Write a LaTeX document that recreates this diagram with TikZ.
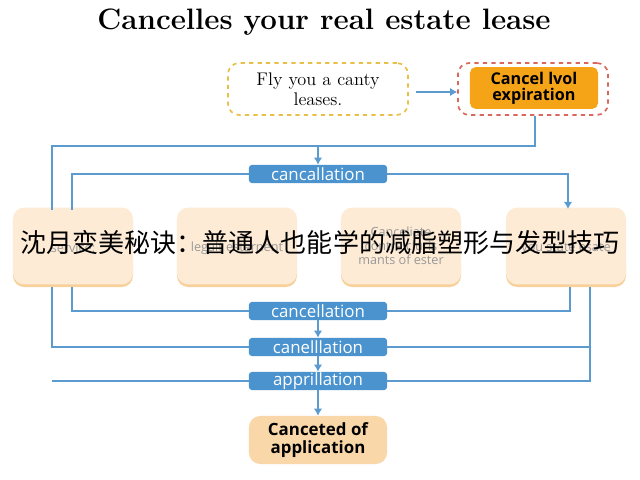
\documentclass[tikz,border=0pt]{standalone}
\usepackage{fontspec}
\setsansfont{Open Sans}
\newfontfamily\cjk{Noto Sans CJK SC}
\usetikzlibrary{arrows.meta}
\definecolor{flowblue}{HTML}{5B9BD0}
\definecolor{pillblue}{HTML}{4A93CF}
\definecolor{peach}{HTML}{FDEBD6}
\definecolor{peachdark}{HTML}{F8D09A}
\definecolor{dashyellow}{HTML}{E8C048}
\definecolor{dashred}{HTML}{D9675B}
\definecolor{boxorange}{HTML}{F5A418}
\begin{document}
\begin{tikzpicture}[x=0.025cm, y=-0.025cm,
    flow/.style={draw=flowblue, line width=1pt},
    arr/.style={flow, -{Latex[length=5pt,width=6pt]}},
    pill/.style={fill=pillblue, rounded corners=2pt, text=white, font=\sffamily\fontsize{12}{12}\selectfont,
        minimum width=3.45cm, minimum height=0.45cm, inner sep=0pt},
    stage/.style={fill=peach, rounded corners=8pt, minimum width=3cm, minimum height=1.92cm,
        text=black!40, font=\sffamily\fontsize{9}{10}\selectfont, align=center}]
    \useasboundingbox[fill=white] (0,0) rectangle (640,480);

    % Title
    \node[font=\fontsize{21}{24}\selectfont\bfseries] (title) at (324,22) {Cancelles your real estate lease};

    % Top boxes
    \node[draw=dashyellow, dashed, line width=1.2pt, rounded corners=8pt, minimum width=4.5cm, minimum height=1.3cm,
        align=center, font=\fontsize{13}{14.5}\selectfont] (fly) at (318,89) {Fly you a canty\\leases.};
    \node[draw=dashred, dashed, line width=1.2pt, rounded corners=8pt, minimum width=3.75cm, minimum height=1.3cm] (lvolframe) at (533,89) {};
    \node[fill=boxorange, rounded corners=4pt, minimum width=3.2cm, minimum height=0.92cm, align=center,
        font=\sffamily\bfseries\fontsize{11.5}{11.5}\selectfont] (lvol) at (534,88) {Cancel lvol\\expiration};
    \draw[arr] (fly.east) ++(7,3) coordinate (f1) -- (lvolframe.west |- f1);

    % Pills
    \node[pill] (pa) at (318,174) {cancallation};
    \node[pill] (pb) at (318,311) {cancellation};
    \node[pill] (pc) at (318,347) {canelllation};
    \node[pill] (pd) at (318,381) {apprillation};

    % Stage boxes
    \foreach \name/\x/\txt in {sa/73/{\\service:}, sb/237/{\\legalt estarnent}, sc/401/{Canceliate\\contra cluris\\mants of ester}, sd/566/{\\you state esate}}{
        \fill[peachdark, rounded corners=8pt] (\x-60,258) rectangle (\x+60,287);
        \node[stage] (\name) at (\x,246) {\txt};
    }

    % Final box
    \node[fill=peachdark!85, rounded corners=8pt, minimum width=3.45cm, minimum height=1.2cm, align=center,
        font=\sffamily\bfseries\fontsize{12}{12.5}\selectfont] (final) at (318,440) {Canceted of\\application};

    % Connectors above the stages
    \coordinate (k1) at (535,146);
    \draw[flow] (lvolframe.south -| k1) -- (k1) -- (52,146) -- (52,210);
    \draw[arr] (318,146) -- (pa.north);
    \draw[flow] (pa.west) -| (72,210);
    \draw[arr] (pa.east) -| (568,209);

    % Connectors below the stages
    \draw[flow] (72,287) |- (pb.west);
    \draw[flow] (pb.east) -| (570,287);
    \draw[flow] (52,287) |- (pc.west);
    \draw[flow] (pc.east) -| (590,287);
    \draw[flow] (pd.west -| 52,0) -- (pd.west);
    \draw[flow] (pd.east) -| (590,347);
    \draw[arr] (pb.south) -- (pc.north);
    \draw[arr] (pc.south) -- (pd.north);
    \draw[arr] (pd.south) -- (final.north);

    % Overlay caption
    \node[font=\cjk\fontsize{18.5}{22}\selectfont] (caption) at (320,243) {沈月变美秘诀：普通人也能学的减脂塑形与发型技巧};
\end{tikzpicture}
\end{document}
